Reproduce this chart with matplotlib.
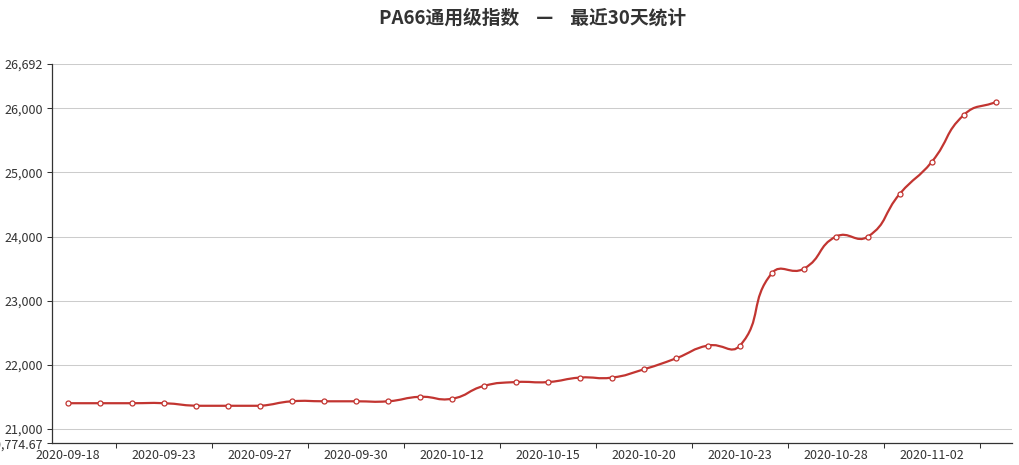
import numpy as np
import matplotlib
matplotlib.use('Agg')
import matplotlib.pyplot as plt
from matplotlib.path import Path
from matplotlib.patches import PathPatch

# 中文字體
plt.rcParams['font.family'] = ['Noto Sans CJK SC', 'DejaVu Sans']

# 資料
dates = ['2020-09-18', '2020-09-21', '2020-09-22', '2020-09-23', '2020-09-24',
         '2020-09-25', '2020-09-27', '2020-09-28', '2020-09-29', '2020-09-30',
         '2020-10-09', '2020-10-10', '2020-10-12', '2020-10-13', '2020-10-14',
         '2020-10-15', '2020-10-16', '2020-10-19', '2020-10-20', '2020-10-21',
         '2020-10-22', '2020-10-23', '2020-10-26', '2020-10-27', '2020-10-28',
         '2020-10-29', '2020-10-30', '2020-11-02', '2020-11-03', '2020-11-04']
values = [21400, 21400, 21400, 21400, 21360, 21360, 21360, 21430, 21430, 21430,
          21430, 21500, 21470, 21670, 21730, 21730, 21800, 21800, 21930, 22100,
          22300, 22300, 23430, 23500, 24000, 24000, 24670, 25170, 25900, 26100]
y_ticks = [20774.67, 21000, 22000, 23000, 24000, 25000, 26000, 26692]
title = 'PA66通用级指数    —    最近30天统计'

line_color = '#c23531'
text_color = '#333333'

fig = plt.figure(figsize=(10.2, 4.65), dpi=100)
ax = fig.add_axes([52 / 1020, 1 - 443.3 / 465, 960 / 1020, (443.3 - 64) / 465])
x = np.arange(len(dates))
ax.set_xlim(-0.5, len(dates) - 0.5)
ax.set_ylim(y_ticks[0], y_ticks[-1])


# 平滑曲線 (在像素座標中計算控制點)
def smooth_path(xs, ys, smooth=0.5):
    pts = ax.transData.transform(np.column_stack([xs, ys]))
    lo, hi = pts.min(0), pts.max(0)
    n = len(pts)
    cps = []
    for i in range(n):
        p = pts[i]
        prev = pts[i - 1] if i > 0 else p
        nxt = pts[i + 1] if i < n - 1 else p
        v = (nxt - prev) * smooth
        d0 = np.hypot(*(p - prev))
        d1 = np.hypot(*(p - nxt))
        s = d0 + d1
        if s:
            d0, d1 = d0 / s, d1 / s
        cp0 = np.clip(p - v * d0, lo, hi)
        cp1 = np.clip(p + v * d1, lo, hi)
        cps.append((cp0, cp1))
    verts = [pts[0]]
    codes = [Path.MOVETO]
    for i in range(n - 1):
        verts += [cps[i][1], cps[i + 1][0], pts[i + 1]]
        codes += [Path.CURVE4] * 3
    verts = ax.transData.inverted().transform(np.array(verts))
    return Path(verts, codes)


ax.add_patch(PathPatch(smooth_path(x, values), fill=False, edgecolor=line_color,
                       lw=1.6, zorder=3, capstyle='round', joinstyle='round'))
ax.plot(x, values, 'o', ms=3.6, mfc='white', mec=line_color, mew=0.9, zorder=4)

# 座標軸
for side in ['top', 'right']:
    ax.spines[side].set_visible(False)
for side in ['left', 'bottom']:
    ax.spines[side].set_color(text_color)
    ax.spines[side].set_linewidth(0.9)

ax.set_yticks(y_ticks)
ax.set_yticklabels([f'{v:,.2f}' if v != int(v) else f'{int(v):,}' for v in y_ticks])
ax.grid(axis='y', color='#cccccc', lw=0.75, zorder=0)
ax.tick_params(axis='y', length=3.75, width=0.75, color=text_color,
               labelcolor=text_color, labelsize=9, pad=2.5)

ax.set_xticks(x[::3])
ax.set_xticklabels(dates[::3])
ax.set_xticks(np.arange(1.5, len(dates), 3), minor=True)
ax.tick_params(axis='x', which='major', length=0, labelcolor=text_color,
               labelsize=9, pad=4)
ax.tick_params(axis='x', which='minor', length=3.75, width=0.75, color=text_color)

fig.text(533 / 1020, 1 - 18 / 465, title, ha='center', va='center', fontsize=13.5,
         fontweight='bold', color=text_color)

plt.savefig('out.png', dpi=100)
plt.close()
